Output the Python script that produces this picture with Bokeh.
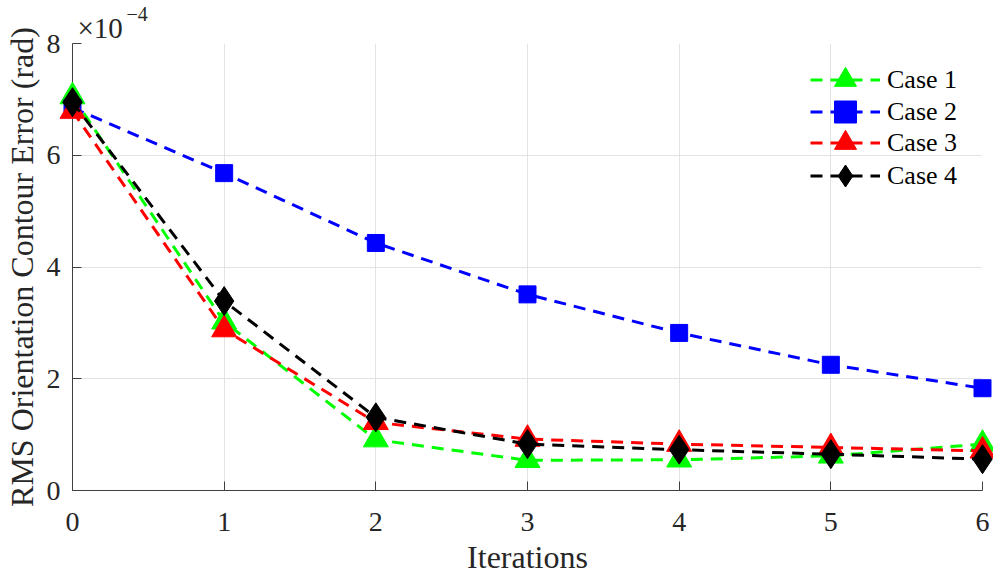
from bokeh.plotting import figure
from bokeh.models import Range1d, FixedTicker, Legend, LegendItem
from bokeh.core.properties import value
from bokeh.embed import file_html
from bokeh.resources import INLINE

# ---- data (RMS orientation contour error, in units of 1e-4 rad) ----
iterations = [0, 1, 2, 3, 4, 5, 6]
case1 = [7.05, 3.02, 0.91, 0.54, 0.55, 0.62, 0.83]
case2 = [6.85, 5.68, 4.43, 3.51, 2.82, 2.25, 1.83]
case3 = [6.79, 2.88, 1.22, 0.92, 0.83, 0.77, 0.71]
case4 = [6.95, 3.39, 1.31, 0.83, 0.73, 0.65, 0.56]
series_names = ["Case 1", "Case 2", "Case 3", "Case 4"]
x_ticks = [0, 1, 2, 3, 4, 5, 6]
y_ticks = [0, 2, 4, 6, 8]
exponent_base = "×10"
exponent_power = "−4"

FONT = "Liberation Serif"
TXT = "#262626"

p = figure(frame_width=910, frame_height=447,
           min_border_left=66, min_border_right=11,
           min_border_top=43, min_border_bottom=72,
           x_range=Range1d(0, 6), y_range=Range1d(0, 8),
           output_backend="svg", toolbar_location=None,
           background_fill_color="white", border_fill_color="white")
p.outline_line_color = None

for ax in (p.xaxis[0], p.yaxis[0]):
    ax.axis_line_color = "#404040"
    ax.axis_line_width = 1
    ax.major_tick_line_color = "#404040"
    ax.major_tick_in = 9
    ax.major_tick_out = 0
    ax.minor_tick_line_color = None
    ax.major_label_text_font = FONT
    ax.major_label_text_font_size = "28px"
    ax.major_label_text_color = TXT
    ax.axis_label_text_font = FONT
    ax.axis_label_text_font_size = "32px"
    ax.axis_label_text_font_style = "normal"
    ax.axis_label_text_color = TXT

p.xaxis.ticker = FixedTicker(ticks=x_ticks)
p.yaxis.ticker = FixedTicker(ticks=y_ticks)
p.xaxis.major_label_standoff = 22
p.yaxis.major_label_standoff = 12
p.xaxis.axis_label = "Iterations"
p.yaxis.axis_label = "RMS Orientation Contour Error (rad)"
p.xaxis.axis_label_standoff = 5
p.yaxis.axis_label_standoff = 4

p.grid.grid_line_color = "#e3e3e3"
p.grid.grid_line_width = 1
p.xgrid.ticker = FixedTicker(ticks=x_ticks)
p.ygrid.ticker = FixedTicker(ticks=y_ticks)

styles = [
    (case1, "#00ff00", "triangle", 25),
    (case2, "#0000ff", "square", 17),
    (case3, "#ff0000", "triangle", 25),
    (case4, "#000000", "diamond", 29),
]

# one single-item legend per series, stacked at the top right
legend_y = [383, 351, 320, 287]
for name, (vals, col, mk, sz), ly in zip(series_names, styles, legend_y):
    ln = p.line(iterations, vals, line_color=col, line_width=3,
                line_dash="12 8", level="annotation")
    sc = p.scatter(iterations, vals, marker=mk, size=sz,
                   fill_color=col, line_color=col, level="annotation")
    lg = Legend(items=[LegendItem(label=name, renderers=[ln, sc])],
                location=(738, ly),
                glyph_width=70, glyph_height=55, label_height=55,
                spacing=0, padding=0, margin=0, label_standoff=7,
                label_text_font=FONT, label_text_font_size="26px",
                label_text_color="#000000",
                border_line_color=None, background_fill_alpha=0)
    p.add_layout(lg, "center")

# axis exponent, drawn above the top-left corner of the axes
p.text(x=[0], y=[8], text=[exponent_base], x_offset=5, y_offset=-16,
       text_font=value(FONT), text_font_size="29px", text_color=TXT,
       text_baseline="alphabetic", level="annotation")
p.text(x=[0], y=[8], text=[exponent_power], x_offset=54, y_offset=-30,
       text_font=value(FONT), text_font_size="20px", text_color=TXT,
       text_baseline="alphabetic", level="annotation")

open("out.html", "w").write(file_html(p, INLINE))
